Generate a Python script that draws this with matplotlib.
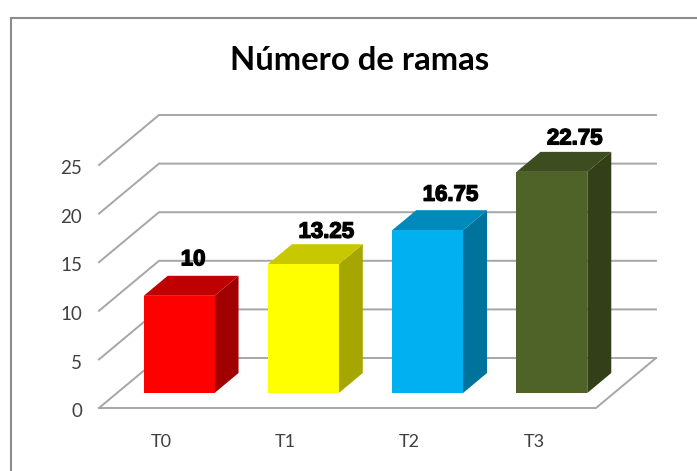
import matplotlib
matplotlib.use('Agg')
import matplotlib.pyplot as plt
import matplotlib.patheffects as pe
from matplotlib.patches import Polygon

categories = ['T0', 'T1', 'T2', 'T3']
values = [10, 13.25, 16.75, 22.75]
y_ticks = [0, 5, 10, 15, 20, 25]
front_colors = ['#ff0000', '#ffff00', '#00b0f0', '#4f6228']
top_colors = ['#c00000', '#c8c800', '#008abc', '#3e4d1f']
side_colors = ['#a00000', '#a6a600', '#00739d', '#333f19']
# hand placed data labels in the original, offsets in pixels from the bar top
label_dx = [-10, -1, -1, -1]
label_dy = [16, 12, 15, 13]

W, H = 697, 471
x0_px, y0_px = 99, 408      # front left corner of the floor
cat_px = 124.25             # pixels per category
val_px = 9.72               # pixels per y unit
depth_x = 60 / cat_px       # how far the back wall is shifted
depth_y = 50 / val_px
bar_w = 0.57
grid_c = '#a6a6a6'
text_c = '#404040'

fig = plt.figure(figsize=(W / 100, H / 100), dpi=100)
ax = fig.add_axes([0, 0, 1, 1])
ax.set_xlim(-0.5 - x0_px / cat_px, -0.5 + (W - x0_px) / cat_px)
ax.set_ylim((y0_px - H) / val_px, y0_px / val_px)
ax.axis('off')


def proj(x, v, d):
    # x category position, v value, d depth from 0 (front) to 1 (back)
    return x + d * depth_x, v + d * depth_y


# outer frame of the chart, open at the bottom and right
fx = ax.get_xlim()[0] + 11 / cat_px
fy = ax.get_ylim()[1] - 18 / val_px
ax.plot([fx, fx, ax.get_xlim()[1]], [ax.get_ylim()[0], fy, fy],
        color='#8c8c8c', lw=1.5, solid_joinstyle='miter', zorder=1)

# walls
left, right = -0.5, len(categories) - 0.5
for v in y_ticks:
    a = proj(left, v, 0)
    b = proj(left, v, 1)
    c = proj(right, v, 1)
    ax.plot([a[0], b[0], c[0]], [a[1], b[1], c[1]], color=grid_c, lw=1.4,
            solid_joinstyle='miter', zorder=2)
    ax.text(a[0] - 17 / cat_px, v - 0.38, str(v), ha='right', va='center', fontsize=13.5,
            family='Lato', color=text_c)

# floor edges
a = proj(left, 0, 0)
b = proj(right, 0, 0)
c = proj(right, 0, 1)
ax.plot([a[0], b[0], c[0]], [a[1], b[1], c[1]], color=grid_c, lw=1.4,
        solid_joinstyle='miter', zorder=2)

# bars
for i, v in enumerate(values):
    l, r = i - bar_w / 2, i + bar_w / 2
    d1, d2 = 0.3, 0.7
    front = [proj(l, 0, d1), proj(r, 0, d1), proj(r, v, d1), proj(l, v, d1)]
    side = [proj(r, 0, d1), proj(r, 0, d2), proj(r, v, d2), proj(r, v, d1)]
    top = [proj(l, v, d1), proj(r, v, d1), proj(r, v, d2), proj(l, v, d2)]
    ax.add_patch(Polygon(side, fc=side_colors[i], ec='none', zorder=3))
    ax.add_patch(Polygon(top, fc=top_colors[i], ec='none', zorder=3))
    ax.add_patch(Polygon(front, fc=front_colors[i], ec='none', zorder=4))
    lx, ly = proj(i, v, 0.7)
    ax.text(lx + label_dx[i] / cat_px, ly + label_dy[i] / val_px, str(v), ha='center',
            va='center', fontsize=16, fontweight='bold', family='Liberation Sans',
            color='black', zorder=5,
            path_effects=[pe.withStroke(linewidth=1.0, foreground='black')])
    ax.text(i, -3.45, categories[i], ha='center', va='center', fontsize=13,
            family='Lato', color=text_c)

ax.text(0.516, 1 - 61 / H, 'Número de ramas', transform=ax.transAxes, ha='center',
        va='center', fontsize=23.7, fontweight='bold', family='Lato', color='black')

fig.savefig('out.png', dpi=100)
